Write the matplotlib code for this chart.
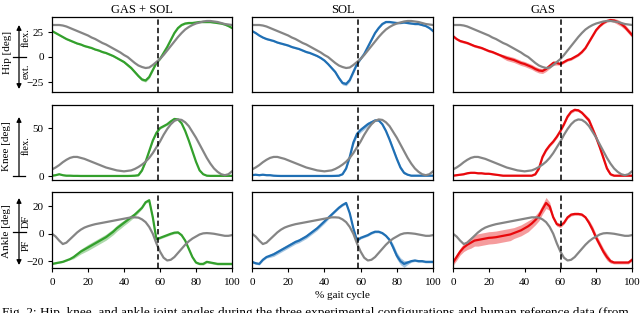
import numpy as np
import matplotlib
matplotlib.use("Agg")
import matplotlib.pyplot as plt

plt.rcParams['font.family'] = 'serif'
plt.rcParams['font.serif'] = ['Liberation Serif', 'DejaVu Serif']
plt.rcParams['mathtext.fontset'] = 'stix'

# ---------------- data ----------------
gait = list(range(0, 101, 2))  # % gait cycle grid

conditions = ["GAS + SOL", "SOL", "GAS"]
colors = ["#33a02c", "#1f6fb4", "#e8080c"]
toe_off = [59, 58.6, 60.2]

ref_hip = [32, 32, 32, 31.5, 30.5, 29, 27.5, 26, 24.5, 23, 21.5, 19.5, 18, 16, 14, 12.5, 10.5, 8.5, 6.5, 4.5,
           2, 0, -3, -6, -8.5, -10, -11, -10.5, -8, -5, -2, 2, 6.5, 11, 15.5, 20, 24, 27.5, 30, 32,
           33.5, 34.5, 35.5, 36, 36, 35.5, 35, 34, 33, 32.5, 32]
ref_knee = [7, 9, 11.5, 14.5, 17, 19, 20, 20, 19, 18, 16.5, 15, 13.5, 12, 10.5, 9, 8, 7, 6, 5.5,
            5, 5.5, 6, 7.5, 9.5, 12, 15, 19, 24, 30, 36, 43, 49, 54, 57.5, 59, 58.5, 56, 52, 46,
            40, 33, 26, 19, 13, 8, 4.5, 2, 1, 2, 5]
ref_ankle = [0, -2, -5, -7.5, -6.5, -4, -1.5, 1, 3, 4.5, 5.5, 6.3, 7, 7.5, 8, 8.5, 9, 9.5, 10, 10.5,
             11, 11.5, 12, 12, 11.8, 10.5, 8.5, 5, 0, -7, -13, -17.5, -19.5, -19, -17, -14, -11, -8, -5.5, -3.5,
             -2, -0.5, 0.3, 0.5, 0.3, 0, -0.5, -1, -1.5, -1.5, -1]

# GAS + SOL
gs_hip = [26, 24, 22, 20, 18, 16.5, 15, 13.5, 12.5, 11, 10, 9, 7.5, 6.5, 5, 4, 2.5, 1, -1, -3,
          -5, -8, -11, -15, -19, -22.5, -23.5, -20, -13, -6, -2, 4, 10, 17, 24, 29, 32, 33.5, 34, 34,
          34.5, 35, 35, 35, 35, 34.5, 34, 33.5, 32.5, 31, 29]
gs_knee = [0.5, 1, 2, 1, 0.5, 0.5, 0.3, 0.3, 0.2, 0.2, 0.2, 0.2, 0.2, 0.2, 0.2, 0.2, 0.2, 0.2, 0.2, 0.2,
           0.2, 0.2, 0.3, 0.5, 1, 6, 15, 26, 37, 45, 50, 52, 54, 57, 59.5, 59, 55, 47, 37, 26,
           15, 6, 2, 0.5, 0.3, 0.3, 0.3, 0.3, 0.3, 0.3, 0.3]
gs_ankle = [-22, -21.5, -21, -20.5, -19.5, -18.5, -17, -15, -13, -11.5, -10, -8.5, -7, -5.5, -4, -2.5, -0.5, 1.5, 4, 6,
            8, 10, 12, 14, 16.5, 19, 23, 24.5, 12, -4, -3, -2, -1, 0, 0.8, 1, -1, -5, -11, -17,
            -21, -22, -22, -20.5, -21, -21.5, -22, -22, -22, -22, -22]
gs_hip_sd = [0.8] * 20 + [1.2, 1.5, 1.5, 1.5, 1.5, 1.5, 1.5, 1.5, 1.2] + [0.8] * 22
gs_knee_sd = [0.5] * 24 + [0.8, 1, 1, 1, 1, 1, 1, 1, 1, 1] + [0.5] * 17
gs_ankle_sd = [0.5] * 6 + [1.2, 1.5, 1.8, 2, 2.2, 2.2, 2.2, 2.2, 2.2, 2.2, 2.2, 2.2, 2.2, 2.2, 2, 2, 1.8, 1.5, 1.2] + [0.8] * 26

# SOL
s_hip = [26, 24, 21.5, 19.5, 18, 17, 16, 14.5, 13.5, 12.5, 11.5, 10, 9, 8, 6.5, 5, 4, 2.5, 1, -1,
         -3.5, -7, -11, -15, -21, -26, -27, -23, -15, -7, -2, 3, 10, 17, 24, 29, 33, 35, 35, 34.5,
         34, 34, 34.5, 34, 33.5, 33, 33, 32, 31, 29, 26]
s_knee = [1, 1.5, 1, 1.5, 1, 1, 0.5, 0.3, 0.2, 0.2, 0.2, 0.2, 0.2, 0.2, 0.2, 0.2, 0.2, 0.2, 0.2, 0.2,
          0.2, 0.2, 0.2, 0.3, 0.5, 2, 8, 20, 35, 44, 48, 51, 54, 56, 58, 58, 54, 47, 38, 28,
          18, 9, 3.5, 1.5, 0.5, 0.5, 0.5, 0.5, 0.5, 0.5, 0.5]
s_ankle = [-20.5, -21.5, -22, -19, -17, -16, -15, -13.5, -12, -10.5, -9, -7.5, -6, -5, -3.5, -2, 0, 2, 4, 6.5,
           9, 11.5, 14, 16.5, 19, 21, 22.5, 15, 4, -5, -3, -2, -1, 0.5, 1.5, 1.5, 0.5, -1.5, -4.5, -10,
           -16, -20, -22, -21, -20, -19.5, -20, -20, -20.5, -20.5, -20.5]
s_hip_sd = [0.8] * 22 + [1.2, 1.5, 1.8, 1.8, 1.8, 1.8, 1.8, 1.5] + [0.8] * 21
s_knee_sd = [0.5] * 26 + [1, 2, 2.5, 2.5, 2.5, 2.5, 2.5, 2, 1, 1, 1, 1.5, 2, 2, 2, 2, 1.5] + [0.5] * 8
s_ankle_sd = [0.8] * 5 + [1.2, 1.5, 1.5, 1.5, 1.5, 1.5, 1.5, 1.5, 1.5, 1.5, 1.5, 1.5, 1.5, 1.5, 1.5, 1.5, 1.2] + [0.8] * 16 + [1.5, 2.5, 2.5, 2.5, 2.5, 1.5] + [0.8] * 7

# GAS
g_hip = [21, 18, 16, 15, 14, 12.5, 11, 10, 9, 7.5, 6, 5, 3.5, 2, 0.5, -1, -2, -3, -4.5, -6,
         -7, -8.5, -10, -12, -13.5, -14, -12, -9, -6, -6, -7, -5, -3, -2, 0, 2, 5, 9, 15, 21,
         27, 31, 34, 36, 37, 36.5, 35, 33, 30, 26, 22]
g_knee = [0.5, 1, 1.5, 2, 3, 3.5, 3.5, 3, 3, 2.5, 2.5, 2, 1.5, 1, 0.5, 0.5, 0.5, 0.5, 0.5, 0.5,
          0.5, 0.5, 0.5, 2, 8, 20, 27, 32, 36, 41, 47, 54, 62, 67, 69, 68.5, 66, 62, 58, 49,
          40, 30, 19, 8, 2, 0.5, 0.5, 0.5, 0.5, 0.5, 0.5]
g_ankle = [-21, -17, -13, -10, -8, -6.5, -5, -4.5, -4, -3.5, -3, -2.8, -2.5, -2, -1.5, -1, -0.5, 0.5, 1.5, 2.5,
           4, 5.5, 7.5, 10, 13, 18, 22.5, 20, 12, 7, 6, 8, 12, 14, 14.5, 14.5, 14, 12, 8, 3,
           -3, -8, -13, -17, -20, -21, -21, -21, -21, -21, -19]
g_hip_sd = [1.2] * 14 + [2, 2.5, 2.5, 2.5, 2.5, 2.5, 2.5, 2.5, 2.5, 2.5, 2.5, 2.5, 2.5, 2.5, 2.5, 2] + [1.2] * 15 + [2, 2.5, 2.5, 2.5, 2.5, 2.5]
g_knee_sd = [0.6] * 23 + [1, 1.5, 1.5, 1.5, 1.5, 1.5, 1.5, 1.5, 1.5, 1.5, 1.5, 1.5, 1.5, 1.5, 2, 2.5, 3, 3, 3, 3, 2.5, 1.5] + [0.6] * 6
g_ankle_sd = [2, 2.5, 2.5, 3, 3.5, 4, 4, 4.5, 4.5, 4.5, 4.5, 4.5, 4.5, 4.5, 4.5, 4.5, 4.5, 4, 4, 4,
              4, 4, 3.5, 3.5, 3.5, 3.5, 4, 3, 1.5, 1.5, 1.5, 1, 1, 1, 1, 1, 1, 1, 2, 2.5,
              2.5, 2.5, 2.5, 2.5, 1.5, 1, 1, 1, 1, 1, 1]

hip_data = [gs_hip, s_hip, g_hip]
knee_data = [gs_knee, s_knee, g_knee]
ankle_data = [gs_ankle, s_ankle, g_ankle]
hip_sd = [gs_hip_sd, s_hip_sd, g_hip_sd]
knee_sd = [gs_knee_sd, s_knee_sd, g_knee_sd]
ankle_sd = [gs_ankle_sd, s_ankle_sd, g_ankle_sd]

hip_ticks = [-25, 0, 25]
knee_ticks = [0, 50]
ankle_ticks = [-20, 0, 20]
x_ticks = [0, 20, 40, 60, 80, 100]

# ---------------- layout ----------------
W, H = 640, 313
fig = plt.figure(figsize=(W / 100, H / 100), dpi=100)

cols_px = [(52, 232), (252, 433), (453, 632)]
rows_px = [(17, 92), (105, 180), (192, 268)]
ylims = [(-35, 40), (-4, 74), (-25, 30.5)]
ref_data = [ref_hip, ref_knee, ref_ankle]
all_data = [hip_data, knee_data, ankle_data]
all_sd = [hip_sd, knee_sd, ankle_sd]
all_ticks = [hip_ticks, knee_ticks, ankle_ticks]

gx = np.array(gait)
for r, (top, bot) in enumerate(rows_px):
    for c, (left, right) in enumerate(cols_px):
        ax = fig.add_axes([left / W, 1 - bot / H, (right - left) / W, (bot - top) / H])
        y = np.array(all_data[r][c])
        sd = np.array(all_sd[r][c])
        ax.fill_between(gx, y - sd, y + sd, color=colors[c], alpha=0.4, lw=0)
        ax.plot(gx, y, color=colors[c], lw=1.6)
        ax.plot(gx, ref_data[r], color='#858585', lw=1.6)
        ax.axvline(toe_off[c], color='black', ls='--', lw=1.1, dashes=(3.5, 2))
        ax.set_xlim(0, 100)
        ax.set_ylim(*ylims[r])
        for sp in ax.spines.values():
            sp.set_linewidth(0.9)
        ax.tick_params(labelsize=8, length=3, width=0.8)
        ax.tick_params(axis='x', pad=4)
        ax.tick_params(axis='y', pad=3)
        if c == 0:
            ax.set_yticks(all_ticks[r])
            ax.set_yticklabels([str(t).replace('-', '\u2212') for t in all_ticks[r]])
        else:
            ax.set_yticks([])
        if r == 2:
            ax.set_xticks(x_ticks)
            ax.set_xticklabels([str(t) for t in x_ticks])
        else:
            ax.set_xticks([])
        if r == 0:
            ax.set_title(conditions[c], fontsize=9, pad=3)


def fx(px):
    return px / W


def fy(py):
    return 1 - py / H


arrow_kw = dict(lw=0.9, color='black', mutation_scale=7, shrinkA=0, shrinkB=0)

# Hip
fig.text(fx(7), fy(52), "Hip [deg]", rotation=90, ha='center', va='center', fontsize=8)
fig.add_artist(matplotlib.patches.FancyArrowPatch((fx(19), fy(89)), (fx(19), fy(25)),
               transform=fig.transFigure, arrowstyle='<|-|>', **arrow_kw))
fig.add_artist(matplotlib.lines.Line2D([fx(13), fx(26)], [fy(57), fy(57)], transform=fig.transFigure,
               color='black', lw=0.9))
fig.text(fx(26.5), fy(38), "flex.", rotation=90, ha='center', va='center', fontsize=7.5)
fig.text(fx(26.5), fy(71), "ext.", rotation=90, ha='center', va='center', fontsize=7.5)

# Knee
fig.text(fx(7), fy(146), "Knee [deg]", rotation=90, ha='center', va='center', fontsize=8)
fig.add_artist(matplotlib.patches.FancyArrowPatch((fx(19), fy(176)), (fx(19), fy(117)),
               transform=fig.transFigure, arrowstyle='-|>', **arrow_kw))
fig.add_artist(matplotlib.lines.Line2D([fx(13), fx(25)], [fy(176), fy(176)], transform=fig.transFigure,
               color='black', lw=0.9))
fig.text(fx(26.5), fy(146), "flex.", rotation=90, ha='center', va='center', fontsize=7.5)

# Ankle
fig.text(fx(7), fy(231), "Ankle [deg]", rotation=90, ha='center', va='center', fontsize=8)
fig.add_artist(matplotlib.patches.FancyArrowPatch((fx(19), fy(265)), (fx(19), fy(198)),
               transform=fig.transFigure, arrowstyle='<|-|>', **arrow_kw))
fig.add_artist(matplotlib.lines.Line2D([fx(13), fx(26)], [fy(232), fy(232)], transform=fig.transFigure,
               color='black', lw=0.9))
fig.text(fx(26.5), fy(221), "DF", rotation=90, ha='center', va='center', fontsize=7.5)
fig.text(fx(26.5), fy(245), "PF", rotation=90, ha='center', va='center', fontsize=7.5)

# x label
fig.text(fx(342), fy(296), "% gait cycle", ha='center', va='center', fontsize=8)

# caption (cut off by the image edge, as in the reference)
fig.text(fx(2), fy(316), "Fig. 2: Hip, knee, and ankle joint angles during the three experimental "
         "configurations and human reference data (from", ha='left', va='baseline', fontsize=9.5)

fig.savefig("out.png", dpi=100)
